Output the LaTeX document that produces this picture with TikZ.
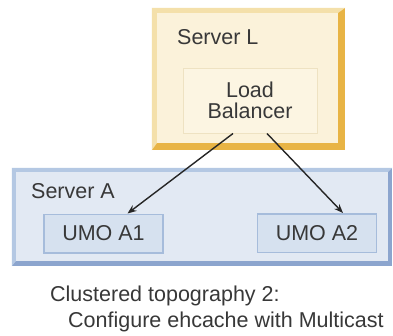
\documentclass[tikz,border=0pt]{standalone}
\usepackage{fontspec}
\setmainfont{Liberation Sans}
\usetikzlibrary{arrows.meta}
\definecolor{golddark}{HTML}{E8B445}
\definecolor{goldlight}{HTML}{F4E0AA}
\definecolor{creamfill}{HTML}{FBF2DA}
\definecolor{lbfill}{HTML}{FCF5E2}
\definecolor{lbborder}{HTML}{EEE2C2}
\definecolor{bluedark}{HTML}{8CA5CE}
\definecolor{bluelight}{HTML}{B4C8E3}
\definecolor{bluefill}{HTML}{E2E9F3}
\definecolor{umofill}{HTML}{D6E1EF}
\definecolor{umoborder}{HTML}{A6BCDB}
\definecolor{txt}{HTML}{383838}
\tikzset{
  every node/.style={font=\fontsize{21.5}{21.5}\selectfont, text=txt},
  outerbox/.style={draw=none, inner sep=0pt},
  lbbox/.style={fill=lbfill, draw=lbborder, line width=1pt, minimum width=134pt, minimum height=65pt, align=center, inner sep=0pt},
  umobox/.style={fill=umofill, draw=umoborder, line width=1.5pt, minimum width=119pt, minimum height=38.5pt, inner sep=0pt},
  conn/.style={draw=black!85, line width=1.4pt, -{Stealth[length=9pt,width=7pt]}},
  lbl/.style={anchor=west, inner sep=0pt}
}
\begin{document}
\begin{tikzpicture}[x=1pt,y=1pt]
\useasboundingbox[fill=white] (0,0) rectangle (393,-335);
% Server L
\node[outerbox, fill=golddark, minimum width=193pt, minimum height=142pt] (serverL) at (248.5,-79) {};
\fill[goldlight] (serverL.north west) -- (serverL.north east) -- ([shift={(-7,-5)}]serverL.north east)
  -- ([shift={(5,-5)}]serverL.north west) -- ([shift={(5,7)}]serverL.south west) -- (serverL.south west) -- cycle;
\fill[creamfill] ([shift={(5,-5)}]serverL.north west) rectangle ([shift={(-7,7)}]serverL.south east);
\node[lbl] (serverLlabel) at (177,-37) {Server L};
\node[lbbox] (lb) at (250,-100.5) {Load\\Balancer};
% Server A
\node[outerbox, fill=bluedark, minimum width=380pt, minimum height=98pt] (serverA) at (202,-217) {};
\fill[bluelight] (serverA.north west) -- (serverA.north east) -- ([shift={(-4,-4)}]serverA.north east)
  -- ([shift={(4,-4)}]serverA.north west) -- ([shift={(4,5)}]serverA.south west) -- (serverA.south west) -- cycle;
\fill[bluefill] ([shift={(4,-4)}]serverA.north west) rectangle ([shift={(-4,5)}]serverA.south east);
\node[lbl] (serverAlabel) at (31,-191) {Server A};
\node[umobox] (umo1) at (103.5,-233.5) {UMO A1};
\node[umobox] (umo2) at (317,-233) {UMO A2};
% connectors
\draw[conn] ([xshift=-17pt]lb.south) -- ([xshift=24pt]umo1.north);
\draw[conn] ([xshift=17pt]lb.south) -- ([xshift=26pt]umo2.north);
% caption
\node[lbl] (cap1) at (50,-296) {Clustered topography 2:};
\node[lbl] (cap2) at (68,-322) {Configure ehcache with Multicast};
\end{tikzpicture}
\end{document}
